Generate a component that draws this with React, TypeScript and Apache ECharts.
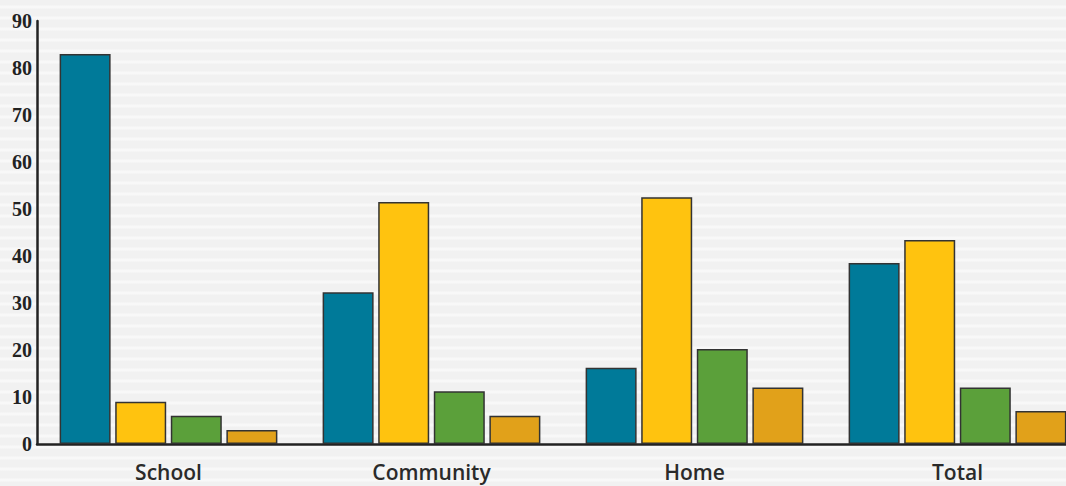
import React, { useEffect, useRef } from "react";
import * as echarts from "echarts";

const categories = ["School", "Community", "Home", "Total"];
const seriesBlue = [83, 32.3, 16.2, 38.5];
const seriesYellow = [9, 51.5, 52.5, 43.4];
const seriesGreen = [6, 11.2, 20.2, 12];
const seriesOrange = [3, 6, 12, 7];
const seriesNames = ["Blue", "Yellow", "Green", "Orange"];
const colors = ["#007A99", "#FFC30F", "#5BA03A", "#E1A11A"];

export default function App() {
  const ref = useRef<HTMLDivElement>(null);
  useEffect(() => {
    if (!ref.current) return;
    const chart = echarts.init(ref.current, null, { renderer: "svg" });
    const data = [seriesBlue, seriesYellow, seriesGreen, seriesOrange];
    chart.setOption({
      animation: false,
      grid: { left: 37, right: 0, top: 21, bottom: 42, containLabel: false },
      xAxis: {
        type: "category",
        data: categories,
        axisLine: { show: true, lineStyle: { color: "#222", width: 2.5 } },
        axisTick: { show: false },
        axisLabel: {
          margin: 17,
          fontFamily: "Open Sans",
          fontWeight: 600,
          fontSize: 21,
          color: "#2a2a2a",
        },
      },
      yAxis: {
        type: "value",
        min: 0,
        max: 90,
        interval: 10,
        axisLine: { show: true, lineStyle: { color: "#222", width: 2.5 } },
        axisTick: { show: false },
        splitLine: { show: false },
        axisLabel: {
          margin: 5,
          fontFamily: "Liberation Serif",
          fontWeight: "bold",
          fontSize: 20,
          color: "#222",
        },
      },
      series: data.map((d, i) => ({
        name: seriesNames[i],
        type: "bar",
        data: d,
        barWidth: 51,
        barGap: "9%",
        itemStyle: { color: colors[i], borderColor: "#333", borderWidth: 1.5 },
      })),
    });
    return () => chart.dispose();
  }, []);
  return (
    <div
      style={{
        position: "fixed",
        left: 0,
        top: 0,
        width: 1066,
        height: 486,
        overflow: "hidden",
        backgroundColor: "#f1f1f1",
        backgroundImage:
          "repeating-linear-gradient(to bottom, #f1f1f1 0px, #f1f1f1 5px, #f8f8f8 6px, #f8f8f8 8px, #f1f1f1 9px, #f1f1f1 11px)",
      }}
    >
      <div ref={ref} style={{ width: 1089, height: 486 }} />
    </div>
  );
}
